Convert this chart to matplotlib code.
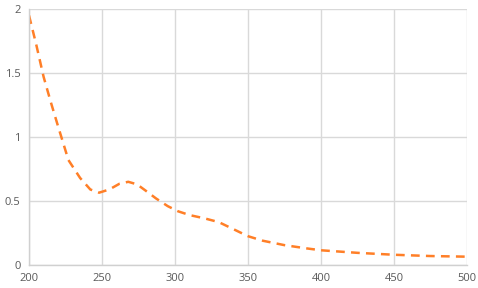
import matplotlib
matplotlib.use("Agg")
import matplotlib.pyplot as plt

wavelength = [200, 205, 210, 215, 220, 227, 235, 242, 248, 255, 262, 268, 274, 280, 287,
              295, 302, 310, 320, 330, 340, 350, 360, 375, 390, 400, 425, 450, 475, 500]
absorbance = [1.95, 1.72, 1.47, 1.27, 1.08, 0.82, 0.68, 0.59, 0.565, 0.59, 0.635, 0.65, 0.63,
              0.58, 0.52, 0.46, 0.42, 0.39, 0.365, 0.335, 0.28, 0.225, 0.19, 0.155, 0.13,
              0.115, 0.095, 0.08, 0.07, 0.065]
x_ticks = [200, 250, 300, 350, 400, 450, 500]
y_ticks = [0, 0.5, 1, 1.5, 2]
y_labels = ["0", "0.5", "1", "1.5", "2"]

plt.rcParams['font.family'] = ['Open Sans', 'DejaVu Sans']
fig = plt.figure(figsize=(4.78, 2.88), dpi=100)
ax = fig.add_axes([29/478, 23/288, 438/478, 256/288])
ax.plot(wavelength, absorbance, color='#FF7F27', linewidth=1.8, linestyle=(0, (3.5, 2.5)))
ax.set_xlim(200, 500)
ax.set_ylim(0, 2)
ax.set_xticks(x_ticks)
ax.set_yticks(y_ticks)
ax.set_yticklabels(y_labels)
ax.grid(True, color='#d9d9d9', linewidth=1)
ax.set_axisbelow(True)
for s in ['top', 'right']:
    ax.spines[s].set_visible(False)
for s in ['left', 'bottom']:
    ax.spines[s].set_color('#d0d0d0')
    ax.spines[s].set_linewidth(1)
ax.tick_params(length=0, labelsize=8, colors='#595959', pad=6)
fig.savefig('out.png', dpi=100)
